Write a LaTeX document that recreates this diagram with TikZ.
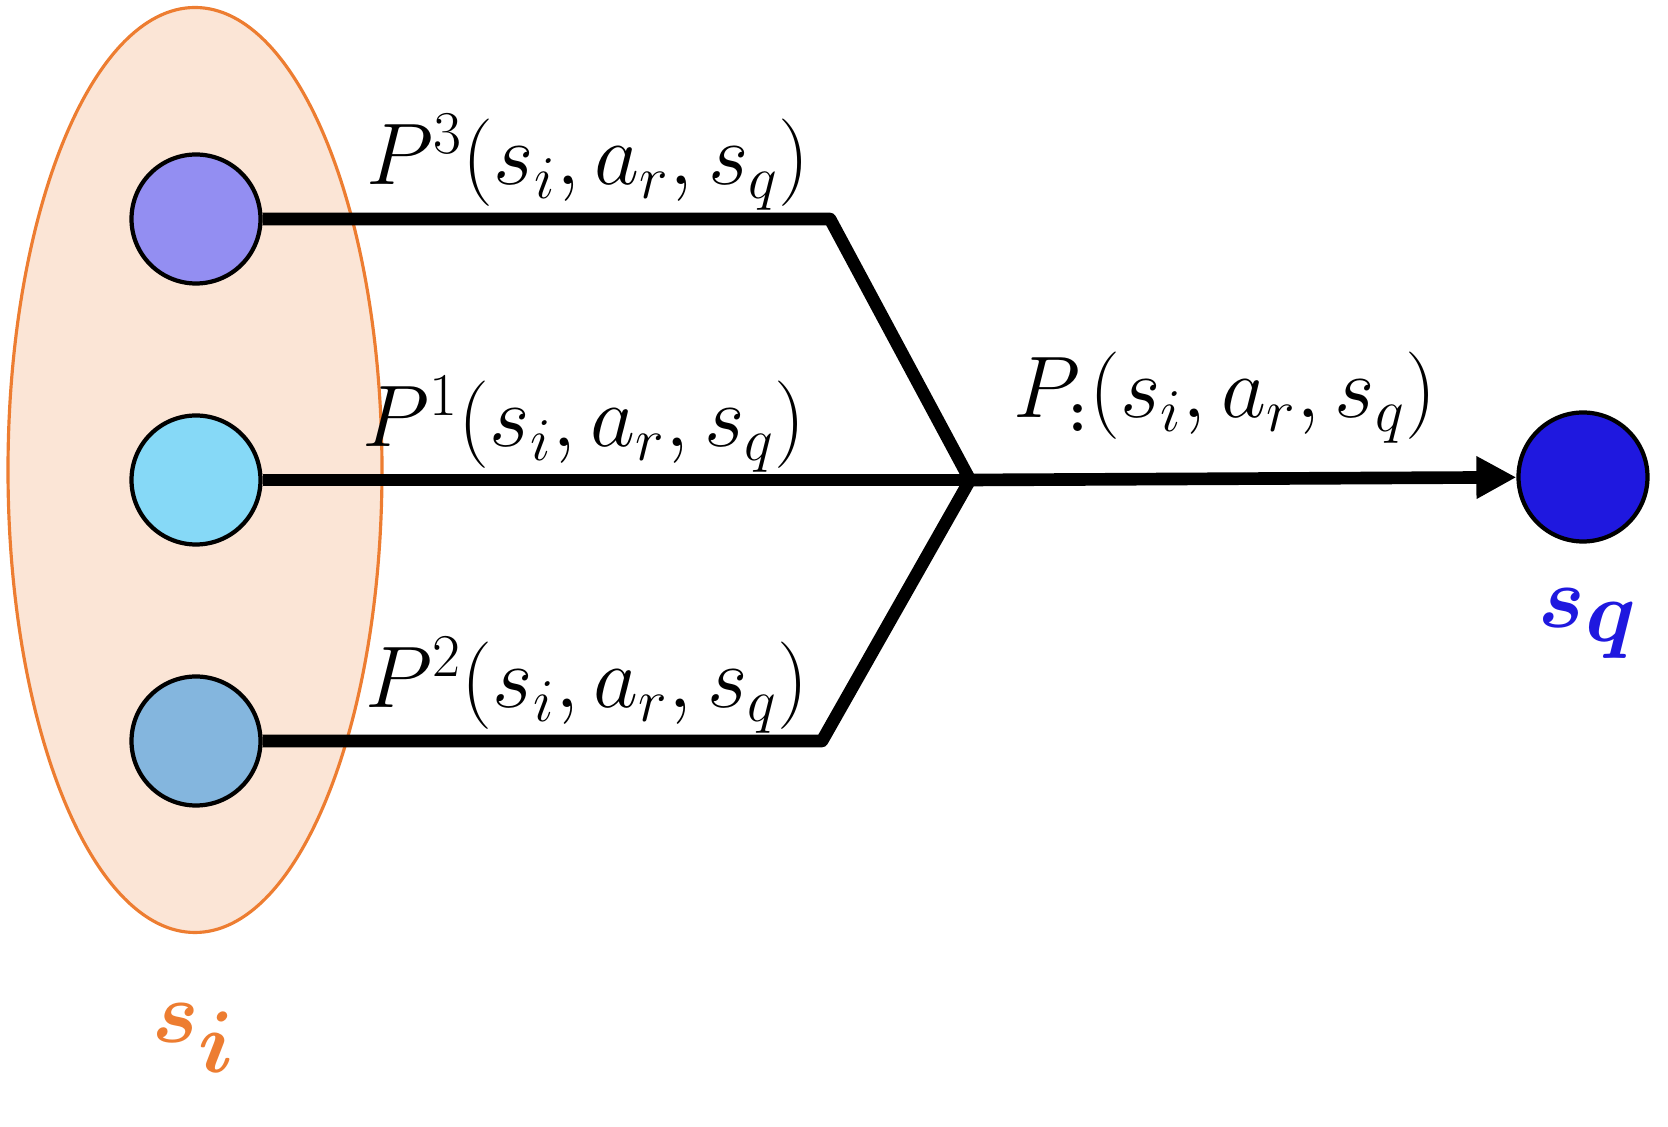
\documentclass[tikz,border=0pt]{standalone}
\usepackage{amsmath}
\usepackage{amssymb}
\usepackage{xcolor}
\usepackage{tikz}
\usetikzlibrary{automata,positioning,shapes.geometric,arrows.meta}

\definecolor{setfill}{HTML}{FBE5D6}
\definecolor{setline}{HTML}{ED7D31}
\definecolor{purpst}{HTML}{938EF2}
\definecolor{cyanst}{HTML}{86D9F7}
\definecolor{bluest}{HTML}{84B6DE}
\definecolor{deepblue}{HTML}{1F18DF}

\begin{document}
\begin{tikzpicture}[node distance=2.61cm, on grid,
    every state/.style={draw=black, line width=1.2pt, minimum size=1.29cm},
    conn/.style={line width=3.6pt, line join=round},
    lbl/.style={anchor=base, font=\fontsize{23}{28}\selectfont}]
        \useasboundingbox (0,0) rectangle (16.68,-11.27);
        \node[ellipse] (Si) [draw=setline, fill=setfill, line width=0.9pt, minimum width=3.74cm, minimum height=9.25cm] at (1.95,-4.70) {};
        \node[state] (s1) [fill=cyanst] at (1.96,-4.80) {};
        \node[state] (s3) [fill=purpst, above = of s1] {};
        \node[state] (s2) [fill=bluest, below = of s1] {};
        \node[state] (sq) [fill=deepblue] at (15.83,-4.77) {};

        \coordinate[right = 6.34cm of s3] (b3);
        \coordinate[right = 7.74cm of s1] (J);
        \coordinate[right = 6.26cm of s2] (b2);

        \draw[conn] (s3) -- (b3) -- (J);
        \draw[conn] (s1) -- (J);
        \draw[conn] (s2) -- (b2) -- (J);
        \draw[conn, -{Triangle[length=0.40cm, width=0.40cm]}] (J) -- (sq);

        \node[lbl] (l3) at (5.88,-1.85) {$P^3(s_i,a_r,s_q)$};
        \node[lbl] (l1) at (5.84,-4.47) {$P^1(s_i,a_r,s_q)$};
        \node[lbl] (l2) at (5.87,-7.08) {$P^2(s_i,a_r,s_q)$};
        \node[lbl] (lq) [font=\fontsize{26.5}{31}\selectfont] at (12.25,-4.18) {$P_{\boldsymbol{:}}(s_i,a_r,s_q)$};
        \node[lbl] (ti) [font=\fontsize{34}{40}\selectfont, text=setline] at (1.94,-10.43) {$\boldsymbol{s_i}$};
        \node[lbl] (tq) [font=\fontsize{34}{40}\selectfont, text=deepblue] at (15.88,-6.28) {$\boldsymbol{s_q}$};
    \end{tikzpicture}
\end{document}
